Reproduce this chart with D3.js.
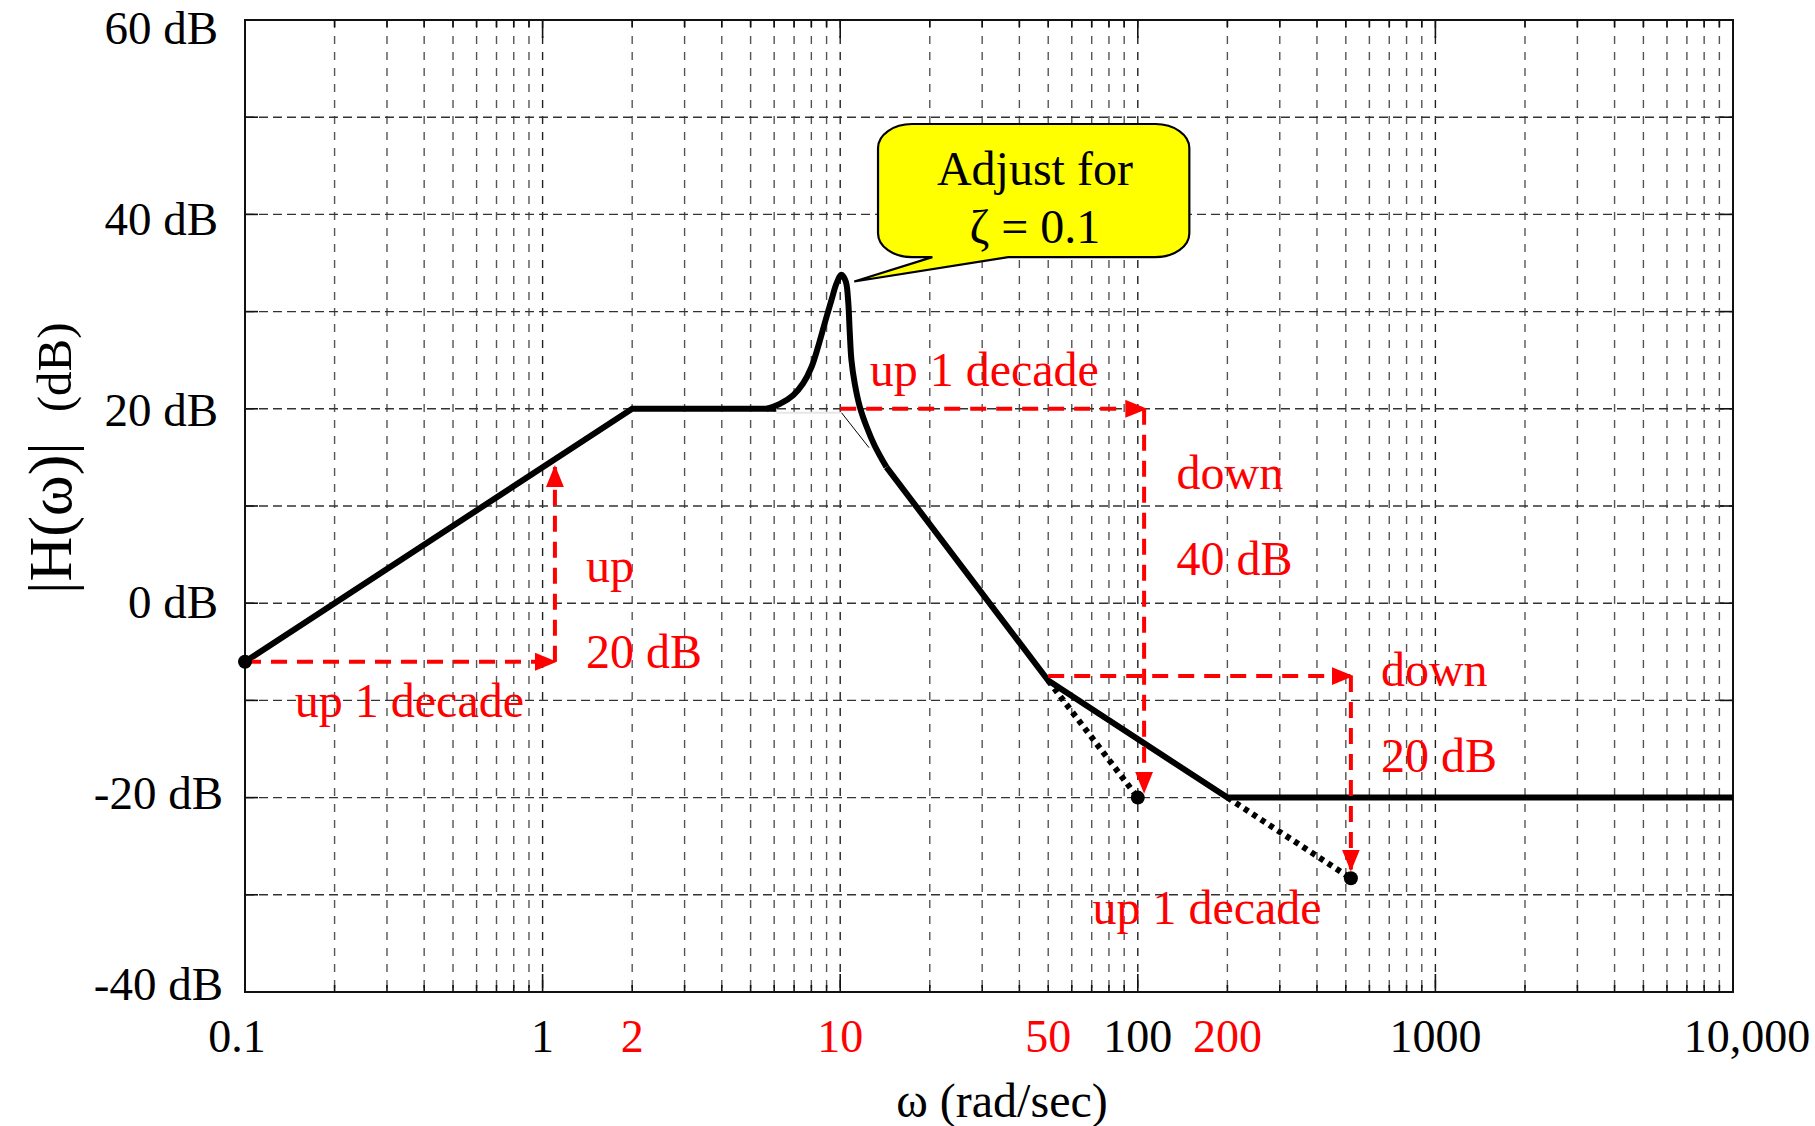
<!DOCTYPE html>
<html>
<head>
<meta charset="utf-8">
<script src="https://cdn.jsdelivr.net/npm/d3@7"></script>
<style>
  html, body { margin: 0; padding: 0; background: #fff; }
  svg { display: block; }
  text { font-family: "Liberation Serif", "Times New Roman", serif; }
</style>
</head>
<body>
<svg id="chart" width="1815" height="1126"></svg>
<script>
// ---------------- data ----------------
const xDomain = [0.1, 10000];
const yDomain = [-40, 60];
const decadeValues = [0.1, 1, 100, 1000, 10000];
const decadeLabels = ["0.1", "1", "100", "1000", "10,000"];
const cornerValues = [2, 10, 50, 200];
const cornerLabels = ["2", "10", "50", "200"];
const yTickValues = [60, 40, 20, 0, -20, -40];
const yTickLabels = ["60 dB", "40 dB", "20 dB", "0 dB", "-20 dB", "-40 dB"];

// asymptotic magnitude (omega, dB)
const lowBranch = [[0.1, -6.02], [2, 20], [6.1, 20]];
const resonance = [[5.65, 20.0], [6.27, 20.5], [6.95, 21.4], [7.5, 22.6], [8.01, 24.3], [8.43, 26.4],
                   [8.87, 28.8], [9.35, 31.2], [9.72, 32.9], [10.1, 33.8], [10.44, 33.1], [10.63, 31.2],
                   [10.77, 27.8], [10.91, 25.0], [11.19, 22.6], [11.64, 20.2], [12.25, 18.2],
                   [13.06, 16.2], [14.3, 14.0]];
const highBranch = [[14.3, 14.0], [50, -7.96], [200, -20], [10000, -20]];
const hiddenFlat = [[6.1, 19.6], [10, 19.6]];
const hiddenSlope = [[10.1, 19.6], [12.5, 16.0]];
const dotted40 = [[50, -7.96], [100, -20]];
const dotted20 = [[200, -20], [520, -28.3]];
const dots = [[0.1, -6.02], [100, -20], [520, -28.3]];

// red construction arrows [from, to]
const arrows = [
  [[0.1, -6.02], [1.1, -6.02]],
  [[1.1, -6.02], [1.1, 14.0]],
  [[10, 20], [106, 20]],
  [[105, 20], [105, -19.4]],
  [[50, -7.5], [523, -7.5]],
  [[520, -7.5], [520, -27.4]]
];
const notes = [
  {t: "up 1 decade", w: 0.147, db: -11.7},
  {t: "up", w: 1.40, db: 2.2},
  {t: "20 dB", w: 1.40, db: -6.7},
  {t: "up 1 decade", w: 12.56, db: 22.3},
  {t: "down", w: 135, db: 11.8},
  {t: "40 dB", w: 135, db: 2.9},
  {t: "down", w: 656, db: -8.5},
  {t: "20 dB", w: 656, db: -17.4},
  {t: "up 1 decade", w: 70.4, db: -33.0}
];
// callout (omega, dB)
const calloutBox = [[13.4, 49.3], [149, 35.6]];
const calloutTail = [[20.4, 35.6], [11.15, 33.1], [36.7, 35.6]];
const calloutLines = [{t: "Adjust for", w: 45.1, db: 43.0}, {t: "\u03B6 = 0.1", w: 45.1, db: 37.1}];

// ---------------- drawing ----------------
const svg = d3.select("#chart");
const L = 245, R = 1733, T = 20, B = 992;
const x = d3.scaleLog().domain(xDomain).range([L, R]);
const y = d3.scaleLinear().domain(yDomain).range([B, T]);
const red = "#ff0000";
const isDecade = v => Math.abs(Math.log10(v) - Math.round(Math.log10(v))) < 1e-6;

// grid
const gGrid = svg.append("g");
const xGrid = x.ticks().filter(v => v > 0.1 * 1.0001 && v < 10000 * 0.9999);
gGrid.selectAll("line.v").data(xGrid).join("line")
  .attr("x1", d => x(d)).attr("x2", d => x(d)).attr("y1", T).attr("y2", B)
  .attr("stroke", d => isDecade(d) ? "#222" : "#555")
  .attr("stroke-width", 1.4).attr("stroke-dasharray", "8,8");
gGrid.selectAll("line.h").data(y.ticks(10)).join("line")
  .attr("x1", L).attr("x2", R).attr("y1", d => y(d)).attr("y2", d => y(d))
  .attr("stroke", "#333").attr("stroke-width", 1.4).attr("stroke-dasharray", "9,5");

// frame & inward ticks
svg.append("rect").attr("x", L).attr("y", T).attr("width", R - L).attr("height", B - T)
  .attr("fill", "none").attr("stroke", "#111").attr("stroke-width", 2);
const gTicks = svg.append("g").attr("stroke", "#111").attr("stroke-width", 1.6);
x.ticks().forEach(v => {
  const len = isDecade(v) ? 18 : 7;
  gTicks.append("line").attr("x1", x(v)).attr("x2", x(v)).attr("y1", B).attr("y2", B - len);
  gTicks.append("line").attr("x1", x(v)).attr("x2", x(v)).attr("y1", T).attr("y2", T + len);
});
y.ticks(10).forEach(v => {
  gTicks.append("line").attr("x1", L).attr("x2", L + 13).attr("y1", y(v)).attr("y2", y(v));
  gTicks.append("line").attr("x1", R).attr("x2", R - 13).attr("y1", y(v)).attr("y2", y(v));
});

// tick labels
svg.append("g").selectAll("text").data(yTickValues).join("text")
  .attr("x", d => d < 0 ? 223 : 218).attr("y", d => y(d) + 16 - (y(d) - 506) * 0.016)
  .attr("text-anchor", "end").attr("font-size", 47).attr("fill", "#000")
  .text((d, i) => yTickLabels[i]);
svg.append("g").selectAll("text").data(decadeValues).join("text")
  .attr("x", (d, i) => x(d) + (i === 0 ? -8 : (i === decadeValues.length - 1 ? 14 : 0)))
  .attr("y", 1052).attr("text-anchor", "middle").attr("font-size", 46).attr("fill", "#000")
  .text((d, i) => decadeLabels[i]);
svg.append("g").selectAll("text").data(cornerValues).join("text")
  .attr("x", d => x(d)).attr("y", 1052).attr("text-anchor", "middle")
  .attr("font-size", 46).attr("fill", red)
  .text((d, i) => cornerLabels[i]);

// axis titles
svg.append("text").attr("x", (L + R) / 2 + 13).attr("y", 1117)
  .attr("text-anchor", "middle").attr("font-size", 48).text("\u03C9 (rad/sec)");
const yt = svg.append("text").attr("transform", "translate(71,594) rotate(-90)")
  .attr("text-anchor", "start");
yt.append("tspan").attr("font-size", 62).text("|H(\u03C9)|");
yt.append("tspan").attr("font-size", 49).attr("dx", 30).text("(dB)");

// lines
const line = d3.line().x(d => x(d[0])).y(d => y(d[1]));
const smooth = d3.line().x(d => x(d[0])).y(d => y(d[1])).curve(d3.curveCatmullRom.alpha(0.5));
svg.append("path").datum(hiddenFlat).attr("d", line).attr("fill", "none")
  .attr("stroke", "#e6e6e6").attr("stroke-width", 2);
svg.append("path").datum(hiddenSlope).attr("d", line).attr("fill", "none")
  .attr("stroke", "#000").attr("stroke-width", 1);
[dotted40, dotted20].forEach(seg => {
  svg.append("path").datum(seg).attr("d", line).attr("fill", "none")
    .attr("stroke", "#000").attr("stroke-width", 6).attr("stroke-dasharray", "5,5");
});
[lowBranch, highBranch].forEach(seg => {
  svg.append("path").datum(seg).attr("d", line).attr("fill", "none")
    .attr("stroke", "#000").attr("stroke-width", 6).attr("stroke-linejoin", "miter");
});
svg.append("path").datum(resonance).attr("d", smooth).attr("fill", "none")
  .attr("stroke", "#000").attr("stroke-width", 6).attr("stroke-linejoin", "round");

// arrows
svg.append("defs").append("marker").attr("id", "ah")
  .attr("markerUnits", "userSpaceOnUse").attr("markerWidth", 22).attr("markerHeight", 18)
  .attr("refX", 20).attr("refY", 9).attr("orient", "auto")
  .append("path").attr("d", "M0,0 L22,9 L0,18 Z").attr("fill", red);
svg.append("g").selectAll("line").data(arrows).join("line")
  .attr("x1", d => x(d[0][0])).attr("y1", d => y(d[0][1]))
  .attr("x2", d => x(d[1][0])).attr("y2", d => y(d[1][1]))
  .attr("stroke", red).attr("stroke-width", 4).attr("stroke-dasharray", "16,10")
  .attr("marker-end", "url(#ah)");

// dots
svg.append("g").selectAll("circle").data(dots).join("circle")
  .attr("cx", d => x(d[0])).attr("cy", d => y(d[1])).attr("r", 7).attr("fill", "#000");

// red notes
svg.append("g").selectAll("text").data(notes).join("text")
  .attr("x", d => x(d.w)).attr("y", d => y(d.db)).attr("font-size", 48).attr("fill", red)
  .text(d => d.t);

// callout
const bx0 = x(calloutBox[0][0]), by0 = y(calloutBox[0][1]);
const bx1 = x(calloutBox[1][0]), by1 = y(calloutBox[1][1]);
const rx = 34, ry = 24;
const tA = x(calloutTail[0][0]), tip = [x(calloutTail[1][0]), y(calloutTail[1][1])], tB = x(calloutTail[2][0]);
const cpath = `M${bx0 + rx},${by0} L${bx1 - rx},${by0} A${rx},${ry} 0 0 1 ${bx1},${by0 + ry}` +
  ` L${bx1},${by1 - ry} A${rx},${ry} 0 0 1 ${bx1 - rx},${by1}` +
  ` L${tB},${by1} L${tip[0]},${tip[1]} L${tA},${by1}` +
  ` L${bx0 + rx},${by1} A${rx},${ry} 0 0 1 ${bx0},${by1 - ry}` +
  ` L${bx0},${by0 + ry} A${rx},${ry} 0 0 1 ${bx0 + rx},${by0} Z`;
svg.append("path").attr("d", cpath).attr("fill", "#ffff00").attr("stroke", "#000").attr("stroke-width", 2.2);
svg.append("g").selectAll("text").data(calloutLines).join("text")
  .attr("x", d => x(d.w)).attr("y", d => y(d.db)).attr("text-anchor", "middle")
  .attr("font-size", 48).attr("fill", "#000").text(d => d.t);
</script>
</body>
</html>
